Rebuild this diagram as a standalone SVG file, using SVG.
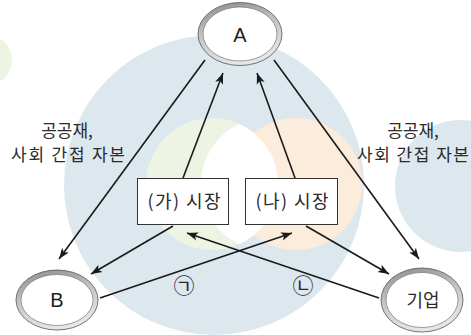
<svg xmlns="http://www.w3.org/2000/svg" width="471" height="335" viewBox="0 0 471 335">
<style>
.lbl{font-family:"Noto Sans CJK KR","Noto Sans",sans-serif;font-size:17px;fill:#2a2a2a;text-anchor:middle}
.node{font-family:"Liberation Sans","Noto Sans CJK KR",sans-serif;font-size:20px;fill:#222;text-anchor:middle}
.box{fill:#fff;stroke:#333;stroke-width:1}
.edge{stroke:#1a1a1a;stroke-width:1.6;fill:none}
.ringo{fill:url(#ring);stroke:#555;stroke-width:0.8}
.ringi{fill:#fff;stroke:#777;stroke-width:0.7}
</style>
<defs>
<linearGradient id="ring" x1="0" y1="0" x2="0.3" y2="1">
<stop offset="0" stop-color="#8a8a8a"/>
<stop offset="0.5" stop-color="#c4c4c4"/>
<stop offset="1" stop-color="#e6e6e6"/>
</linearGradient>
<marker id="ah" viewBox="0 0 10 10" refX="10" refY="5" markerWidth="11" markerHeight="11" markerUnits="userSpaceOnUse" orient="auto">
<path d="M0,1.2 L10,5 L0,8.8 L2.5,5 z" fill="#1a1a1a"/>
</marker>
</defs>
<g id="background">
<circle cx="-13" cy="60" r="25" fill="#eef4e4"/>
<circle cx="461" cy="186" r="66" fill="#dce7ee"/>
<circle cx="214" cy="185" r="150" fill="#dce7ee"/>
<circle cx="212" cy="184" r="66" fill="#eef4e4"/>
<circle cx="296" cy="184" r="66" fill="#fcecdc"/>
<path d="M 239.5 124 A 66 66 0 0 0 239.5 244 A 66 66 0 0 0 239.5 124 Z" fill="#fff"/>
</g>
<g id="connectors">
<line class="edge" x1="205" y1="60" x2="59" y2="259" marker-end="url(#ah)"/>
<line class="edge" x1="183" y1="178" x2="223" y2="73" marker-end="url(#ah)"/>
<line class="edge" x1="295" y1="178" x2="257" y2="73" marker-end="url(#ah)"/>
<line class="edge" x1="274" y1="60" x2="419" y2="259" marker-end="url(#ah)"/>
<line class="edge" x1="173" y1="226" x2="91" y2="274" marker-end="url(#ah)"/>
<line class="edge" x1="306" y1="226" x2="389" y2="274" marker-end="url(#ah)"/>
<line class="edge" x1="100" y1="298" x2="292" y2="233" marker-end="url(#ah)"/>
<line class="edge" x1="379" y1="298" x2="187" y2="233" marker-end="url(#ah)"/>
</g>
<g id="labels">
<text class="lbl" x="67" y="137">공공재,</text>
<text class="lbl" x="68" y="161" textLength="114" lengthAdjust="spacing">사회 간접 자본</text>
<text class="lbl" x="413" y="137">공공재,</text>
<text class="lbl" x="413" y="161" textLength="112" lengthAdjust="spacing">사회 간접 자본</text>
<text class="lbl" x="184" y="293" style="font-size:21px">㉠</text>
<text class="lbl" x="303" y="293" style="font-size:21px">㉡</text>
</g>
<g id="node-A">
<ellipse class="ringo" cx="240" cy="34" rx="42" ry="31.5"/>
<ellipse class="ringi" cx="240" cy="34" rx="37" ry="27"/>
<text class="node" x="240" y="42">A</text>
</g>
<g id="node-B">
<ellipse class="ringo" cx="57" cy="300" rx="41" ry="30"/>
<ellipse class="ringi" cx="57" cy="300" rx="36" ry="25.5"/>
<text class="node" x="57" y="307">B</text>
</g>
<g id="node-firm">
<ellipse class="ringo" cx="422" cy="300" rx="41" ry="32"/>
<ellipse class="ringi" cx="422" cy="300" rx="36" ry="27.5"/>
<text class="lbl" x="423" y="307" style="font-size:18px" textLength="33" lengthAdjust="spacingAndGlyphs">기업</text>
</g>
<g id="node-ga">
<rect class="box" x="137.5" y="178.5" width="91" height="46"/>
<text class="lbl" x="184" y="208" style="font-size:18px" textLength="73" lengthAdjust="spacing">(가) 시장</text>
</g>
<g id="node-na">
<rect class="box" x="245.5" y="178.5" width="92" height="46"/>
<text class="lbl" x="292" y="208" style="font-size:18px" textLength="73" lengthAdjust="spacing">(나) 시장</text>
</g>
</svg>
